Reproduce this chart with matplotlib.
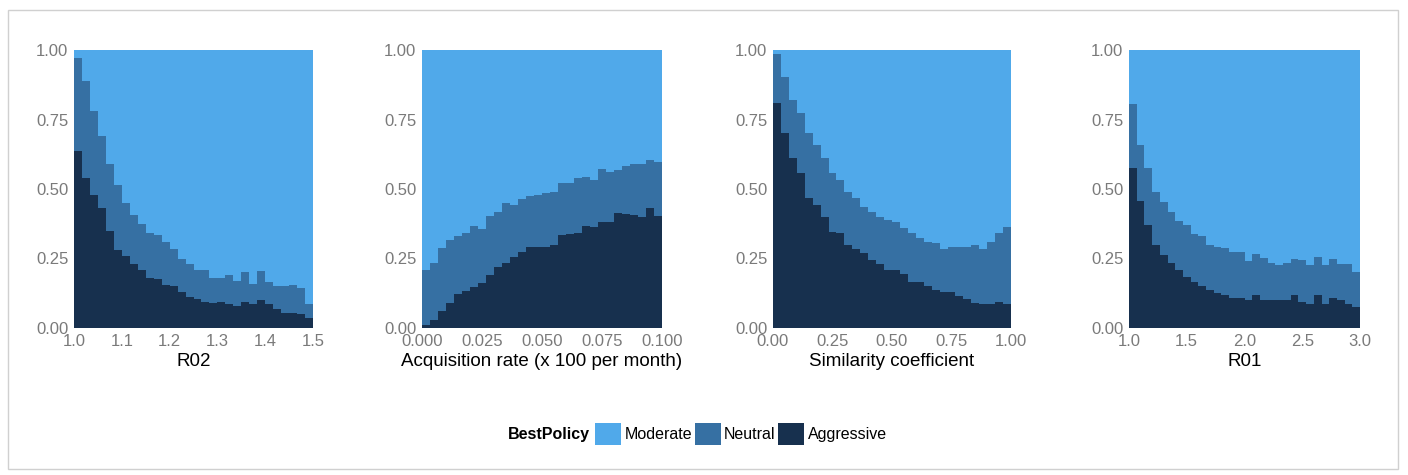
import numpy as np
import matplotlib
matplotlib.use("Agg")
import matplotlib.pyplot as plt
from matplotlib.patches import Patch, Rectangle

plt.rcParams["font.family"] = ["Liberation Sans", "DejaVu Sans"]

policies = ["Moderate", "Neutral", "Aggressive"]
colors = {"Moderate": "#50A9EA", "Neutral": "#3670A3", "Aggressive": "#17304E"}

# Share of simulations in each of 30 bins where each policy is best
r02_range = (1.0, 1.5)
r02_ticks = [1.0, 1.1, 1.2, 1.3, 1.4, 1.5]
r02_aggressive = [.635, .54, .48, .43, .35, .28, .26, .23, .21, .18,
                  .175, .155, .15, .13, .11, .105, .095, .09, .095, .085,
                  .08, .095, .085, .10, .085, .07, .055, .055, .05, .035]
r02_neutral = [.335, .35, .30, .26, .24, .235, .19, .175, .165, .16,
               .16, .155, .135, .12, .12, .105, .115, .09, .085, .105,
               .09, .105, .075, .105, .08, .08, .095, .10, .095, .05]

acq_range = (0.0, 0.1)
acq_ticks = [0.0, 0.025, 0.05, 0.075, 0.1]
acq_aggressive = [.011, .03, .062, .089, .122, .134, .149, .163, .19, .22,
                  .235, .257, .275, .29, .29, .293, .30, .335, .337, .34,
                  .367, .365, .382, .382, .415, .41, .405, .398, .43, .403]
acq_neutral = [.199, .205, .225, .228, .208, .209, .218, .192, .213, .198,
               .213, .186, .188, .185, .188, .191, .19, .185, .183, .198,
               .175, .167, .189, .18, .153, .173, .185, .192, .174, .195]

sim_range = (0.0, 1.0)
sim_ticks = [0.0, 0.25, 0.5, 0.75, 1.0]
sim_aggressive = [.81, .70, .61, .556, .466, .442, .40, .346, .34, .30,
                  .284, .27, .245, .23, .21, .209, .193, .164, .164, .152,
                  .137, .128, .13, .116, .104, .089, .085, .085, .095, .085]
sim_neutral = [.175, .204, .21, .216, .234, .216, .21, .21, .192, .19,
               .182, .166, .173, .17, .178, .173, .165, .176, .161, .158,
               .168, .156, .163, .177, .189, .211, .199, .223, .245, .28]

r01_range = (1.0, 3.0)
r01_ticks = [1.0, 1.5, 2.0, 2.5, 3.0]
r01_aggressive = [.577, .457, .37, .30, .263, .233, .209, .185, .167, .15,
                  .137, .125, .12, .107, .107, .10, .119, .10, .10, .10,
                  .10, .119, .095, .085, .119, .085, .107, .10, .085, .077]
r01_neutral = [.228, .201, .204, .19, .191, .185, .176, .185, .17, .18,
               .163, .168, .167, .168, .168, .142, .146, .153, .133, .127,
               .133, .131, .15, .142, .138, .142, .143, .129, .144, .126]

panels = [
    ("R02", r02_range, r02_ticks, "{:.1f}", r02_aggressive, r02_neutral),
    ("Acquisition rate (x 100 per month)", acq_range, acq_ticks, "{:.3f}",
     acq_aggressive, acq_neutral),
    ("Similarity coefficient", sim_range, sim_ticks, "{:.2f}",
     sim_aggressive, sim_neutral),
    ("R01", r01_range, r01_ticks, "{:.1f}", r01_aggressive, r01_neutral),
]

W, H = 1408, 475
fig = plt.figure(figsize=(W / 100, H / 100), dpi=100)

# panel boxes in pixels: left, right, top, bottom
boxes = [(74, 313), (422, 662), (773, 1011), (1129, 1360)]
top_px, bot_px = 50, 328

tick_color = "#7a7a7a"
for (xlabel, xr, xticks, fmt, agg, neu), (l, r) in zip(panels, boxes):
    ax = fig.add_axes([l / W, 1 - bot_px / H, (r - l) / W, (bot_px - top_px) / H])
    agg = np.asarray(agg)
    neu = np.asarray(neu)
    edges = np.linspace(xr[0], xr[1], len(agg) + 1)
    cum = agg + neu
    ax.stairs(np.ones_like(cum), edges, baseline=cum, fill=True,
              color=colors["Moderate"], lw=0, antialiased=False)
    ax.stairs(cum, edges, baseline=agg, fill=True,
              color=colors["Neutral"], lw=0, antialiased=False)
    ax.stairs(agg, edges, baseline=0, fill=True,
              color=colors["Aggressive"], lw=0, antialiased=False)
    ax.set_xlim(*xr)
    ax.set_ylim(0, 1)
    ax.set_xticks(xticks)
    ax.set_xticklabels([fmt.format(t) for t in xticks])
    ax.set_yticks([0, 0.25, 0.5, 0.75, 1.0])
    ax.set_yticklabels(["0.00", "0.25", "0.50", "0.75", "1.00"])
    ax.tick_params(length=0, labelsize=12, labelcolor=tick_color)
    ax.tick_params(axis="x", pad=4)
    ax.tick_params(axis="y", pad=4)
    for s in ax.spines.values():
        s.set_visible(False)
    ax.set_xlabel(xlabel, fontsize=13.5, color="black", labelpad=3)

handles = [Patch(facecolor=colors[p], edgecolor="none", label=p) for p in policies]
fig.text(590 / W, 1 - 434 / H, "BestPolicy", fontsize=11.5, fontweight="bold",
         ha="right", va="center")
fig.legend(handles=handles, loc="center left", bbox_to_anchor=(595 / W, 1 - 434 / H),
           ncol=3, frameon=False, fontsize=11.5, handlelength=1.65, handleheight=1.65,
           handletextpad=0.2, columnspacing=0.15, borderpad=0, borderaxespad=0)

fig.patches.append(Rectangle((8 / W, 1 - 469 / H), 1390 / W, 459 / H,
                             transform=fig.transFigure, fill=False,
                             edgecolor="#d0d0d0", lw=1))

fig.savefig("out.png", dpi=100)
